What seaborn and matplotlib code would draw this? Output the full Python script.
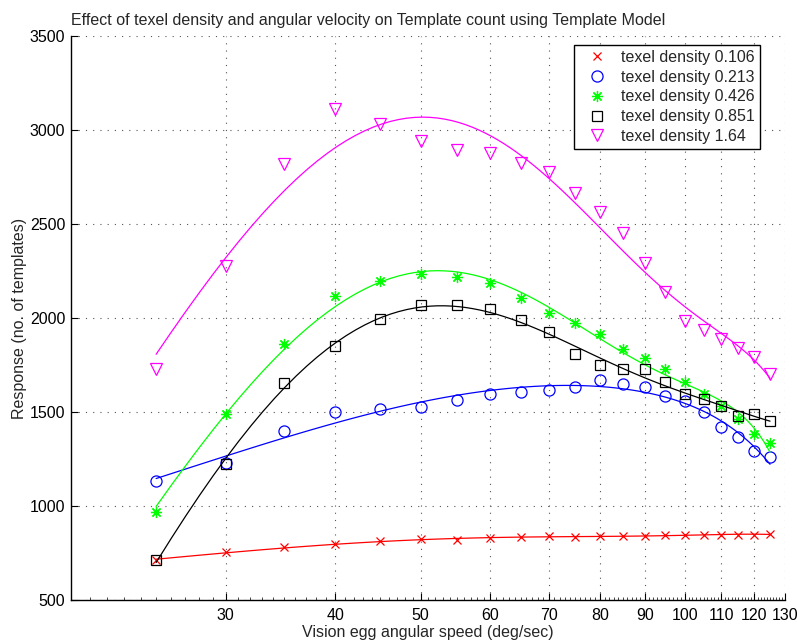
import numpy as np
import pandas as pd
import matplotlib
matplotlib.use("Agg")
import matplotlib.pyplot as plt
from matplotlib.ticker import FixedLocator, NullFormatter, FixedFormatter
import seaborn as sns

speed = [25, 30, 35, 40, 45, 50, 55, 60, 65, 70, 75, 80, 85, 90, 95, 100, 105, 110, 115, 120, 125]
td_0106 = [712, 755, 780, 797, 812, 824, 818, 828, 836, 838, 836, 840, 840, 841, 846, 846, 845, 845, 848, 848, 852]
td_0213 = [1135, 1230, 1401, 1500, 1516, 1528, 1564, 1596, 1606, 1617, 1631, 1670, 1647, 1633, 1587, 1560, 1500, 1420, 1369, 1290, 1258]
td_0426 = [968, 1488, 1862, 2117, 2198, 2234, 2216, 2184, 2105, 2025, 1975, 1917, 1835, 1787, 1729, 1660, 1594, 1532, 1464, 1381, 1333]
td_0851 = [713, 1223, 1654, 1851, 1993, 2067, 2067, 2046, 1989, 1924, 1809, 1748, 1727, 1727, 1658, 1597, 1569, 1532, 1479, 1489, 1454]
td_164 = [1727, 2278, 2819, 3110, 3030, 2943, 2894, 2879, 2826, 2778, 2663, 2562, 2451, 2294, 2140, 1986, 1934, 1887, 1842, 1794, 1702]

labels = ["texel density 0.106", "texel density 0.213", "texel density 0.426",
          "texel density 0.851", "texel density 1.64"]
series = [td_0106, td_0213, td_0426, td_0851, td_164]
xticks = [30, 40, 50, 60, 70, 80, 90, 100, 110, 120, 130]
yticks = [500, 1000, 1500, 2000, 2500, 3000, 3500]

title = "Effect of texel density and angular velocity on Template count using Template Model"
xlabel = "Vision egg angular speed (deg/sec)"
ylabel = "Response (no. of templates)"

colors = ["#ff0000", "#0000ff", "#00ff00", "#000000", "#ff00ff"]
markers = ["x", "o", (8, 2, 0), "s", "v"]
msizes = [6, 8, 8, 7, 9]
orders = [4, 4, 4, 5, 4]

FS = 11.5

sns.set_theme(style="white")
plt.rcParams["font.family"] = ["Liberation Sans", "DejaVu Sans"]
plt.rcParams["font.size"] = FS

fig = plt.figure(figsize=(7.97, 6.44), dpi=100)
ax = fig.add_axes([71 / 797, 44 / 644, 714 / 797, 564 / 644])

for vals, lab, c, m, ms, od in zip(series, labels, colors, markers, msizes, orders):
    df = pd.DataFrame({"speed": speed, "resp": vals})
    sns.regplot(data=df, x="speed", y="resp", order=od, scatter=False, ci=None,
                color=c, line_kws={"lw": 0.9}, ax=ax, truncate=True)
    sns.lineplot(data=df, x="speed", y="resp", estimator=None, sort=False,
                 linestyle="", marker=m, markersize=ms, color=c,
                 markerfacecolor="none", markeredgecolor=c, markeredgewidth=0.9,
                 label=lab, ax=ax)

ax.set_xscale("log")
ax.set_xlim(20, 130)
ax.set_ylim(500, 3500)
ax.xaxis.set_major_locator(FixedLocator(xticks))
ax.xaxis.set_major_formatter(FixedFormatter([str(t) for t in xticks]))
ax.xaxis.set_minor_locator(FixedLocator([v for v in range(20, 131) if v not in xticks]))
ax.xaxis.set_minor_formatter(NullFormatter())
ax.set_yticks(yticks)
ax.set_yticklabels([str(t) for t in yticks])

ax.grid(True, which="major", linestyle=(0, (1, 5.5)), color="#555555", linewidth=0.8)
ax.tick_params(axis="both", which="major", direction="in", length=5, width=0.8,
               colors="black", labelsize=FS)
ax.tick_params(axis="x", which="major", pad=6, bottom=True)
ax.tick_params(axis="y", which="major", pad=4, left=True)
ax.tick_params(axis="x", which="minor", direction="in", length=2.5, width=0.6, bottom=True)

for s in ["top", "right"]:
    ax.spines[s].set_visible(False)
for s in ["left", "bottom"]:
    ax.spines[s].set_color("black")
    ax.spines[s].set_linewidth(1.0)

ax.set_xlabel(xlabel, fontsize=FS, labelpad=1)
ax.set_ylabel(ylabel, fontsize=FS, labelpad=2)
ax.set_title(title, fontsize=FS, loc="left", pad=8)

leg = ax.legend(loc="upper right", bbox_to_anchor=(0.965, 0.984), frameon=True,
                fancybox=False, edgecolor="black", framealpha=1, fontsize=FS,
                handlelength=2.2, handletextpad=0.45, borderpad=0.3, labelspacing=0.3,
                borderaxespad=0)
leg.get_frame().set_linewidth(1.0)

fig.savefig("out.png", dpi=100)
